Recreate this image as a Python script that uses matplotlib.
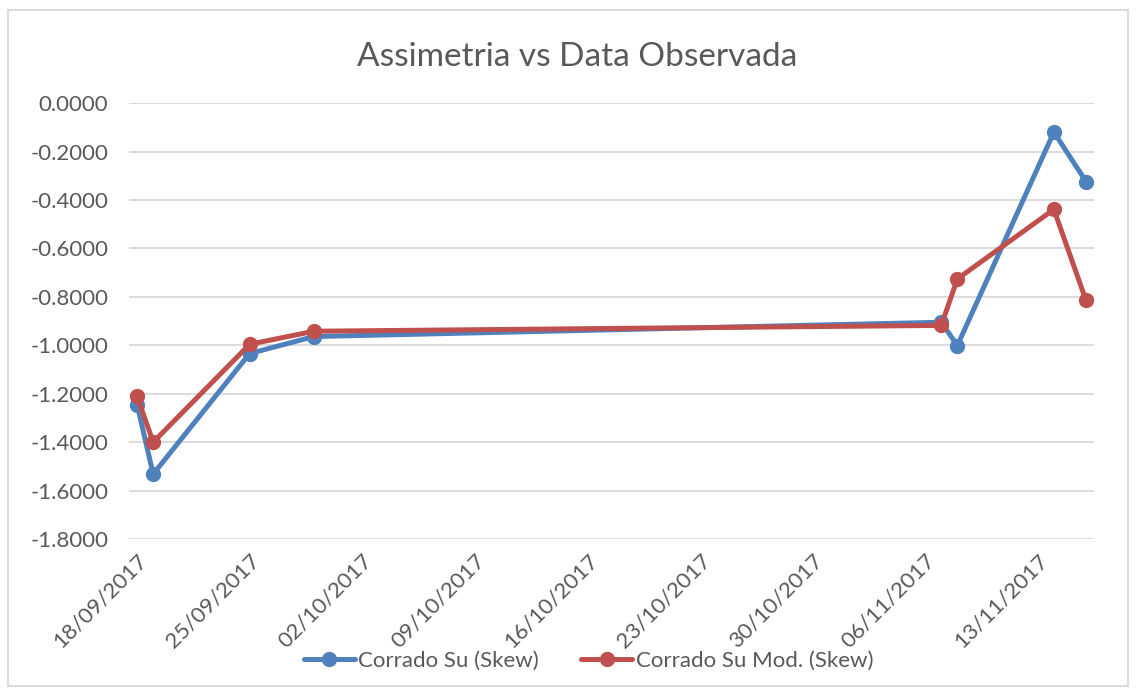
import datetime as dt
import matplotlib
matplotlib.use("Agg")
import matplotlib.pyplot as plt
import matplotlib.dates as mdates
from matplotlib.patches import Rectangle

# DATA
dates = ["2017-09-18", "2017-09-19", "2017-09-25", "2017-09-29",
         "2017-11-07", "2017-11-08", "2017-11-14", "2017-11-16"]
skew_su = [-1.245, -1.532, -1.034, -0.964, -0.905, -1.001, -0.120, -0.324]
skew_su_mod = [-1.211, -1.400, -0.996, -0.942, -0.918, -0.726, -0.439, -0.815]
yticks = [0.0, -0.2, -0.4, -0.6, -0.8, -1.0, -1.2, -1.4, -1.6, -1.8]
tick_dates = ["2017-09-18", "2017-09-25", "2017-10-02", "2017-10-09", "2017-10-16",
              "2017-10-23", "2017-10-30", "2017-11-06", "2017-11-13"]

# PLOT STUFF
txt_c = "#595959"
grid_c = "#d9d9d9"
blue = "#4f81bd"
red = "#c0504d"
plt.rcParams["font.family"] = ["Lato", "DejaVu Sans"]

x = [dt.datetime.strptime(d, "%Y-%m-%d") for d in dates]
xt = [dt.datetime.strptime(d, "%Y-%m-%d") for d in tick_dates]

fig = plt.figure(figsize=(11.36, 6.94), dpi=100)
ax = fig.add_axes([0.1136, 0.2233, 0.8495, 0.6282])

ax.plot(x, skew_su, color=blue, lw=3.6, marker="o", ms=10, label="Corrado Su (Skew)", solid_capstyle="round")
ax.plot(x, skew_su_mod, color=red, lw=3.6, marker="o", ms=10, label="Corrado Su Mod. (Skew)", solid_capstyle="round")

ax.set_ylim(-1.8, 0.0)
ax.set_yticks(yticks)
ax.set_yticklabels([f"{v:.4f}" for v in yticks])
ax.set_xlim(x[0] - dt.timedelta(hours=12), x[-1] + dt.timedelta(hours=12))
ax.set_xticks(xt)
ax.xaxis.set_major_formatter(mdates.DateFormatter("%d/%m/%Y"))
for lab in ax.get_xticklabels():
    lab.set_rotation(45)
    lab.set_ha("right")
    lab.set_rotation_mode("anchor")

ax.grid(axis="y", color=grid_c, lw=1.3)
ax.set_axisbelow(True)
for s in ax.spines.values():
    s.set_visible(False)
ax.tick_params(axis="both", length=0, labelsize=16, labelcolor=txt_c)
ax.tick_params(axis="y", pad=15)
ax.tick_params(axis="x", pad=8)

# title is centred on the chart, not on the plot area
fig.text(0.508, 0.918, "Assimetria vs Data Observada", fontsize=24, color=txt_c,
         ha="center", va="center")

fig.legend(loc="lower center", bbox_to_anchor=(0.518, 0.005), ncol=2, frameon=False,
           fontsize=16, labelcolor=txt_c, handlelength=2.3, handletextpad=0.15, columnspacing=1.9)

# chart border
fig.patches.append(Rectangle((0.007, 0.011), 0.986, 0.975, transform=fig.transFigure,
                             fill=False, edgecolor=grid_c, lw=1.3))

plt.savefig("out.png", dpi=100)
